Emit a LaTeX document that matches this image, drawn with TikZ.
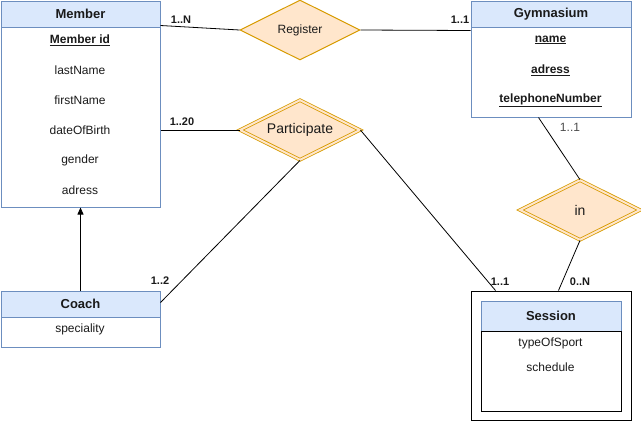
\documentclass[tikz,border=0pt]{standalone}
\usepackage{fontspec}
\setmainfont{Liberation Sans}
\usetikzlibrary{shapes.geometric,arrows.meta}
\definecolor{headblue}{HTML}{DAE8FC}
\definecolor{edgeblue}{HTML}{6C8EBF}
\definecolor{relfill}{HTML}{FFE6CC}
\definecolor{reledge}{HTML}{D79B00}
\definecolor{txt}{HTML}{1A1A1A}
\tikzset{
  entity/.style={draw=edgeblue,line width=1pt,inner sep=0pt,anchor=north west},
  head/.style={entity,fill=headblue,text=txt,font=\bfseries\fontsize{13}{15}\selectfont},
  attr/.style={font=\fontsize{12}{14}\selectfont,text=txt,inner sep=1pt},
  key/.style={attr,font=\bfseries\fontsize{12}{14}\selectfont},
  rel/.style={diamond,aspect=2,draw=reledge,fill=relfill,text=txt,minimum width=120pt,minimum height=60pt,inner sep=0pt,line width=1pt,font=\fontsize{12}{14}\selectfont},
  weakrel/.style={rel,double=relfill,double distance=2pt,line width=0.8pt,font=\fontsize{14}{16}\selectfont},
  card/.style={font=\bfseries\fontsize{11}{13}\selectfont,text=txt,inner sep=0pt},
  link/.style={line width=0.8pt}
}
\begin{document}
\begin{tikzpicture}[x=1pt,y=-1pt]
\useasboundingbox (0,0) rectangle (641,421);
% entities
\node (member) [entity,minimum width=159pt,minimum height=206pt] at (0.5,0.5) {};
\node (memberhead) [head,minimum width=159pt,minimum height=26pt] at (0.5,0.5) {Member};
\node (memberid) [key] at (80,40) {\underline{Member id}};
\foreach \y/\t in {70/lastName,100/firstName,130/dateOfBirth,160/gender,190/adress}
  \node (mattr\y) [attr] at (80,\y) {\t};

\node (gym) [entity,minimum width=160pt,minimum height=116pt] at (470.5,0.5) {};
\node (gymhead) [head,minimum width=160pt,minimum height=26pt] at (470.5,0.5) {Gymnasium};
\foreach \y/\t in {40/name,70/adress,100/telephoneNumber}
  \node (gattr\y) [key] at (550.5,\y) {\underline{\t}};

\node (coach) [entity,minimum width=159pt,minimum height=56pt] at (0.5,290.5) {};
\node (coachhead) [head,minimum width=159pt,minimum height=26pt] at (0.5,290.5) {Coach};
\node (speciality) [attr] at (80,329) {speciality};

% weak entity
\node (sessionbox) [entity,draw=black,minimum width=160pt,minimum height=129pt] at (470.5,290.5) {};
\node (sessionhead) [head,minimum width=140pt,minimum height=30pt] at (480.5,300.5) {Session};
\node (session) [entity,draw=black,minimum width=140pt,minimum height=80pt] at (480.5,330.5) {};
\node (sattr1) [attr] at (550.5,343) {typeOfSport};
\node (sattr2) [attr] at (550.5,367) {schedule};

% relations
\node (register) [rel] at (300,30) {Register};
\node (participate) [weakrel] at (300,130) {Participate};
\node (in) [weakrel] at (580,210) {in};

% links
\draw[link] ([yshift=-25pt]member.north east) -- (register.west);
\draw[link] (register.east) -- ([yshift=-30pt]gym.north west);
\draw[link] ([yshift=-129.5pt]member.north east) -- (participate.west);
\draw[link] (participate.east) -- ([xshift=25pt]sessionbox.north west);
\draw[link] (participate.south) -- ([yshift=-12pt]coach.north east);
\draw[link] ([xshift=68pt]gym.south west) -- (in.north);
\draw[link] (in.south) -- ([xshift=88pt]sessionbox.north west);
\draw[link,-{Triangle[length=7pt,width=6pt]}] (coach.north) -- (member.south);

% cardinalities
\node (c1) [card] at (181,20) {1..N};
\node (c2) [card] at (460,20) {1..1};
\node (c3) [card] at (182,122) {1..20};
\node (c4) [card] at (160,281) {1..2};
\node (c5) [card] at (500,282) {1..1};
\node (c6) [card] at (580,282) {0..N};
\node (c7) [card,font=\fontsize{12}{14}\selectfont,text=black!70] at (570,127) {1..1};
\end{tikzpicture}
\end{document}
